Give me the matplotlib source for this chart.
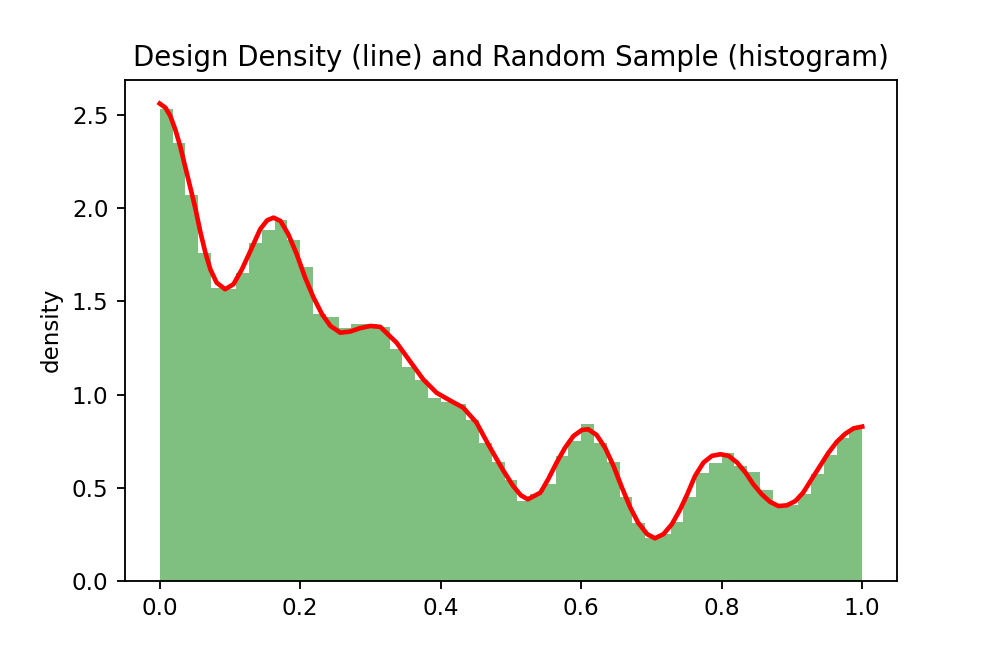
import numpy as np
import matplotlib
matplotlib.use("Agg")
import matplotlib.pyplot as plt

# histogram of the random sample: 55 equal bins on [0, 1]
n_bins = 55
hist_range = (0.0, 1.0)
sample_density = [
    2.53, 2.348, 2.069, 1.761, 1.574, 1.565, 1.651, 1.813, 1.881, 1.937,
    1.831, 1.685, 1.434, 1.418, 1.356, 1.380, 1.377, 1.364, 1.243, 1.148,
    1.078, 0.983, 0.962, 0.948, 0.862, 0.739, 0.638, 0.544, 0.431, 0.465,
    0.522, 0.671, 0.751, 0.844, 0.742, 0.638, 0.451, 0.309, 0.233, 0.254,
    0.318, 0.452, 0.581, 0.631, 0.685, 0.617, 0.585, 0.488, 0.402, 0.41,
    0.468, 0.572, 0.676, 0.765, 0.814,
]

# design density
design_x = [
    0.0, 0.008, 0.015, 0.022, 0.029, 0.036, 0.043, 0.051, 0.058, 0.065,
    0.072, 0.081, 0.093, 0.105, 0.117, 0.129, 0.143, 0.153, 0.162, 0.172,
    0.183, 0.195, 0.207, 0.219, 0.231, 0.243, 0.257, 0.271, 0.285, 0.300,
    0.314, 0.337, 0.356, 0.375, 0.394, 0.413, 0.432, 0.451, 0.469, 0.488,
    0.503, 0.514, 0.524, 0.542, 0.553, 0.565, 0.577, 0.589, 0.601, 0.610,
    0.622, 0.634, 0.646, 0.658, 0.670, 0.681, 0.694, 0.705, 0.717, 0.729,
    0.741, 0.751, 0.762, 0.774, 0.786, 0.798, 0.810, 0.822, 0.834, 0.845,
    0.857, 0.869, 0.881, 0.893, 0.905, 0.916, 0.928, 0.940, 0.952, 0.964,
    0.976, 0.988, 1.0,
]
design_y = [
    2.561, 2.539, 2.495, 2.423, 2.334, 2.226, 2.119, 1.994, 1.869, 1.761,
    1.672, 1.600, 1.565, 1.592, 1.672, 1.770, 1.887, 1.935, 1.949, 1.931,
    1.860, 1.753, 1.627, 1.520, 1.431, 1.368, 1.332, 1.338, 1.356, 1.368,
    1.363, 1.279, 1.180, 1.082, 1.010, 0.969, 0.930, 0.849, 0.724, 0.599,
    0.510, 0.460, 0.438, 0.474, 0.546, 0.635, 0.715, 0.778, 0.810, 0.814,
    0.783, 0.715, 0.617, 0.501, 0.393, 0.313, 0.251, 0.229, 0.251, 0.304,
    0.385, 0.465, 0.563, 0.635, 0.671, 0.680, 0.671, 0.635, 0.581, 0.519,
    0.465, 0.424, 0.402, 0.406, 0.429, 0.474, 0.546, 0.617, 0.688, 0.747,
    0.790, 0.819, 0.828,
]

fig, ax = plt.subplots(figsize=(6.006, 4), dpi=166)
fig.subplots_adjust(left=0.125, right=0.9, top=0.88, bottom=0.125)

edges = np.linspace(hist_range[0], hist_range[1], n_bins + 1)
ax.hist(edges[:-1], bins=edges, weights=sample_density, color='g', alpha=0.5)
ax.plot(design_x, design_y, color='r', linewidth=2, solid_joinstyle='round')

ax.set_title('Design Density (line) and Random Sample (histogram)')
ax.set_ylabel('density')

fig.savefig('out.png')
